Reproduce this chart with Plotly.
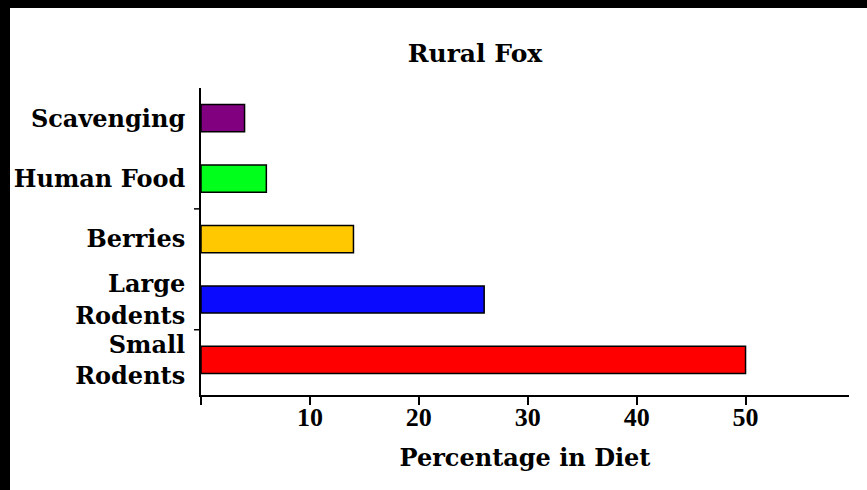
import plotly.graph_objects as go

categories = ["Small<br>Rodents", "Large<br>Rodents", "Berries", "Human Food", "Scavenging"]
values = [50, 26, 14, 6, 4]
colors = ["#ff0000", "#0a0aff", "#ffc800", "#00ff1a", "#800080"]
x_tickvals = [0, 10, 20, 30, 40, 50]
x_ticktext = ["", "10", "20", "30", "40", "50"]

W, H = 867, 490
L, R, T, B = 201, 18, 88, 95
pw, ph = W - L - R, H - T - B

FONT = "DejaVu Serif"

fig = go.Figure(go.Bar(
    x=values, y=categories, orientation="h",
    marker=dict(color=colors, line=dict(color="black", width=1.5)),
    width=0.45,
))

shapes = []
# small y ticks at some category boundaries
for yb in [0.5, 2.5]:
    shapes.append(dict(type="line", xref="paper", yref="y", x0=-7 / pw, x1=0, y0=yb, y1=yb,
                       line=dict(color="black", width=1.5)))
# black frame bands (top and left)
shapes.append(dict(type="rect", xref="paper", yref="paper", x0=-L / pw, x1=(W - L) / pw,
                   y0=1 + (T - 8) / ph, y1=1 + T / ph, fillcolor="black", line=dict(width=0)))
shapes.append(dict(type="rect", xref="paper", yref="paper", x0=-L / pw, x1=(10 - L) / pw,
                   y0=-B / ph, y1=1 + T / ph, fillcolor="black", line=dict(width=0)))

fig.update_layout(
    width=W, height=H,
    margin=dict(l=L, r=R, t=T, b=B, pad=0),
    paper_bgcolor="white", plot_bgcolor="white",
    showlegend=False,
    font=dict(family=FONT, color="black", size=24),
    title=dict(text="<b>Rural Fox</b>", x=475 / W, xanchor="center", y=1 - 53 / H, yanchor="middle",
               font=dict(family=FONT, size=25, color="black")),
    xaxis=dict(range=[0, 59.5], tickvals=x_tickvals, ticktext=[f"<b>{t}</b>" if t else "" for t in x_ticktext],
               showgrid=False, zeroline=False, showline=True, linecolor="black", linewidth=2,
               ticks="outside", ticklen=8, tickwidth=1.5, tickcolor="black",
               tickfont=dict(family="Liberation Serif", size=26), ticklabelstandoff=-10,
               title=dict(text="<b>Percentage in Diet</b>", standoff=18, font=dict(family=FONT, size=24))),
    yaxis=dict(type="category", range=[-0.58, 4.5], showgrid=False, zeroline=False,
               showline=True, linecolor="black", linewidth=2, ticks="",
               tickvals=categories, ticktext=[f"<b>{c.replace('<br>', '</b><br><b>')}</b>" for c in categories],
               tickfont=dict(family=FONT, size=24), ticklabelstandoff=9),
    shapes=shapes,
)

fig.write_html("out.html", config={"displayModeBar": False},
               post_script="document.body.style.margin='0';document.body.style.padding='0';")
